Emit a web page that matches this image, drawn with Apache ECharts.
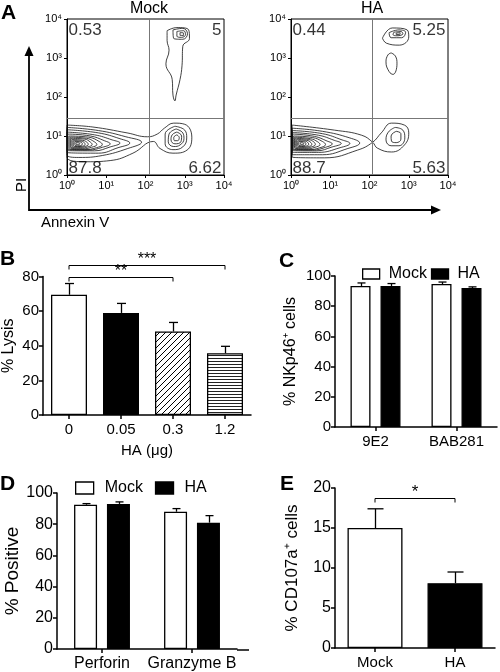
<!DOCTYPE html>
<html><head><meta charset="utf-8">
<script src="https://cdn.jsdelivr.net/npm/echarts@6/dist/echarts.min.js"></script>
<style>html,body{margin:0;padding:0;background:#fff}#c{width:500px;height:672px}</style>
</head><body><div id="c"></div>
<script>
// ---------- DATA ----------
const decadeLabels = ['10⁰','10¹','10²','10³','10⁴'];
const flowTitles = ['Mock','HA'];
const mockQuadrants = ['0.53','5','87.8','6.62'];   // UL, UR, LL, LR
const haQuadrants   = ['0.44','5.25','88.7','5.63'];
const mockGate = [2.09, 1.46];   // log10 annexin, log10 PI
const haGate   = [2.08, 1.46];

// contour lines (log10 Annexin V, log10 PI)
const mockContours = [
  [[0,1.28],[0.66,1.23],[1.53,1.08],[2.05,0.98],[2.3,1.05],[2.48,1.2],[2.72,1.33],[3.0,1.3],[3.18,0.97],[3.06,0.64],[2.7,0.56],[2.37,0.68],[2.2,0.86],[1.68,0.56],[1.1,0.37],[0.5,0.34],[0,0.46]],
  [[0,1.22],[0.8,1.14],[1.5,0.98],[1.9,0.84],[1.55,0.68],[0.9,0.5],[0.3,0.45],[0,0.52]],
  [[0,1.16],[0.8,1.08],[1.35,0.93],[1.6,0.82],[1.3,0.7],[0.8,0.56],[0,0.58]],
  [[0,1.1],[0.7,1.03],[1.15,0.9],[1.35,0.82],[1.1,0.72],[0.7,0.62],[0,0.63]],
  [[0.02,1.05],[0.6,1.0],[0.95,0.88],[1.1,0.8],[0.9,0.71],[0.55,0.64],[0.02,0.66]],
  [[0.05,1.0],[0.55,0.97],[0.82,0.86],[0.9,0.78],[0.75,0.7],[0.45,0.65],[0.05,0.68]],
  [[0.08,0.97],[0.5,0.94],[0.7,0.85],[0.76,0.78],[0.62,0.71],[0.4,0.67],[0.08,0.7]],
  [[0.1,0.94],[0.45,0.92],[0.6,0.84],[0.64,0.78],[0.53,0.72],[0.35,0.69],[0.1,0.72]],
  [[0.13,0.91],[0.4,0.89],[0.52,0.83],[0.54,0.78],[0.45,0.73],[0.3,0.71],[0.13,0.74]],
  [[0.16,0.88],[0.36,0.87],[0.45,0.82],[0.46,0.78],[0.39,0.74],[0.27,0.73],[0.16,0.76]],
  [[0.2,0.86],[0.32,0.85],[0.39,0.81],[0.38,0.77],[0.31,0.75],[0.2,0.77]],
  [[0.23,0.83],[0.31,0.82],[0.33,0.8],[0.29,0.78],[0.23,0.79]],
  [[2.75,1.25],[3.0,1.15],[3.05,0.95],[2.95,0.72],[2.7,0.65],[2.5,0.8],[2.5,1.05]],
  [[2.78,1.18],[2.95,1.08],[2.98,0.93],[2.88,0.77],[2.72,0.73],[2.58,0.85],[2.6,1.05]],
  [[2.8,1.1],[2.92,1.0],[2.9,0.85],[2.75,0.8],[2.65,0.9],[2.68,1.03]],
  [[2.8,1.03],[2.86,0.96],[2.82,0.88],[2.74,0.88],[2.72,0.96]],
  [[2.55,3.7],[2.8,3.78],[3.1,3.72],[3.12,3.5],[2.95,3.3],[2.93,2.8],[2.88,2.45],[2.78,2.05],[2.75,1.9],[2.7,2.05],[2.68,2.45],[2.52,2.85],[2.6,3.2],[2.55,3.45]],
  [[2.7,3.72],[2.95,3.76],[3.07,3.62],[2.95,3.48],[2.72,3.5]],
  [[2.8,3.68],[2.97,3.7],[3.02,3.6],[2.92,3.53],[2.8,3.56]],
  [[2.88,3.65],[2.97,3.64],[2.97,3.58],[2.88,3.58]]
];
const haContours = [
  [[0.03,1.28],[1.11,1.15],[1.8,1.02],[2.08,0.84],[2.2,0.69],[2.56,0.59],[2.89,0.77],[3.0,1.08],[2.89,1.28],[2.56,1.33],[2.3,1.08],[2.08,0.84],[1.7,0.64],[0.86,0.44],[0.03,0.46]],
  [[0.03,1.2],[0.8,1.12],[1.5,0.95],[1.75,0.82],[1.45,0.68],[0.8,0.52],[0.03,0.52]],
  [[0.03,1.14],[0.8,1.06],[1.3,0.9],[1.5,0.81],[1.25,0.7],[0.7,0.58],[0.03,0.58]],
  [[0.03,1.09],[0.7,1.02],[1.1,0.89],[1.28,0.81],[1.05,0.72],[0.65,0.62],[0.03,0.63]],
  [[0.04,1.05],[0.6,0.99],[0.92,0.87],[1.05,0.8],[0.88,0.71],[0.55,0.64],[0.04,0.66]],
  [[0.06,1.0],[0.55,0.96],[0.8,0.86],[0.88,0.78],[0.74,0.7],[0.45,0.65],[0.06,0.68]],
  [[0.09,0.97],[0.5,0.93],[0.68,0.85],[0.74,0.78],[0.61,0.71],[0.4,0.67],[0.09,0.7]],
  [[0.11,0.94],[0.45,0.91],[0.59,0.84],[0.62,0.78],[0.52,0.72],[0.35,0.69],[0.11,0.72]],
  [[0.14,0.91],[0.4,0.89],[0.51,0.83],[0.53,0.78],[0.45,0.73],[0.3,0.71],[0.14,0.74]],
  [[0.17,0.88],[0.36,0.87],[0.44,0.82],[0.45,0.78],[0.38,0.74],[0.27,0.73],[0.17,0.76]],
  [[0.2,0.86],[0.32,0.85],[0.38,0.81],[0.37,0.77],[0.3,0.75],[0.2,0.77]],
  [[0.24,0.83],[0.31,0.82],[0.33,0.8],[0.29,0.78],[0.24,0.79]],
  [[2.65,1.22],[2.85,1.15],[2.9,0.95],[2.75,0.75],[2.55,0.75],[2.42,0.9],[2.48,1.1]],
  [[2.68,1.12],[2.8,1.06],[2.8,0.92],[2.68,0.83],[2.56,0.87],[2.55,1.0]],
  [[2.33,3.51],[2.58,3.77],[2.96,3.72],[3.0,3.54],[2.76,3.33],[2.43,3.38]],
  [[2.5,3.65],[2.75,3.72],[2.92,3.66],[2.82,3.52],[2.55,3.52]],
  [[2.62,3.66],[2.8,3.68],[2.85,3.62],[2.7,3.57],[2.6,3.6]],
  [[2.68,3.64],[2.78,3.65],[2.78,3.61],[2.68,3.6]],
  [[2.55,3.13],[2.66,3.05],[2.7,2.85],[2.6,2.58],[2.5,2.65],[2.42,2.9],[2.47,3.08]]
];

const lysisCats = ['0','0.05','0.3','1.2'];
const lysisMean = [69.5, 59, 48.3, 35.7];
const lysisErr  = [6.5, 5.5, 5.2, 4.0];
const lysisSig  = [{from:0,to:2,text:'**'},{from:0,to:3,text:'***'}];

const nkCats = ['9E2','BAB281'];
const nkMock = [93.4, 94.7], nkMockErr = [2.0, 1.3];
const nkHA   = [93.4, 92.0], nkHAErr   = [1.6, 0.8];

const gzCats = ['Perforin','Granzyme B'];
const gzMock = [92.5, 88.0], gzMockErr = [0.7, 2.0];
const gzHA   = [93.0, 81.0], gzHAErr   = [1.3, 4.5];

const cdCats = ['Mock','HA'];
const cdMean = [15.0, 8.1];
const cdErr  = [2.4, 1.4];
const cdSig  = [{from:0,to:1,text:'*'}];

// ---------- STYLE HELPERS ----------
const FONT = 'Liberation Sans, Arial, sans-serif';
function pattern(kind){
  const c = document.createElement('canvas');
  const g = c.getContext('2d');
  if (kind === 'diag') {
    c.width = c.height = 6;
    g.fillStyle = '#fff'; g.fillRect(0,0,6,6);
    g.strokeStyle = '#000'; g.lineWidth = 1;
    g.beginPath(); g.moveTo(0,6); g.lineTo(6,0); g.moveTo(-1,1); g.lineTo(1,-1); g.moveTo(5,7); g.lineTo(7,5); g.stroke();
  } else {
    c.width = 4; c.height = 3;
    g.fillStyle = '#fff'; g.fillRect(0,0,4,3);
    g.fillStyle = '#222'; g.fillRect(0,1,4,1);
  }
  return {image: c, repeat: 'repeat'};
}
const BLK = '#000';
const barBorder = {borderColor: BLK, borderWidth: 1.3};

function errSeries(axis, vals, errs, offset, capW){
  return {type:'custom', xAxisIndex:axis, yAxisIndex:axis, silent:true, clip:false, z:1,
    encode:{x:0, y:1},
    data: vals.map((v,i)=>[i, v, errs[i]]),
    renderItem(params, api){
      const c = api.value(0), v = api.value(1), e = api.value(2);
      const p0 = api.coord([c, v]), p1 = api.coord([c, v + e]);
      const x = Math.round(p0[0] + offset) + 0.5;
      return {type:'group', children:[
        {type:'line', shape:{x1:x, y1:p0[1], x2:x, y2:p1[1]}, style:{stroke:BLK, lineWidth:1.3}},
        {type:'line', shape:{x1:x-capW/2, y1:p1[1], x2:x+capW/2, y2:p1[1]}, style:{stroke:BLK, lineWidth:1.3}}
      ]};
    }};
}
function bracketSeries(axis, sig, levels, fontSize){
  return {type:'custom', xAxisIndex:axis, yAxisIndex:axis, silent:true, clip:false, z:5,
    encode:{x:[0,1], y:2},
    data: sig.map((s,i)=>[s.from, s.to, levels[i]]),
    renderItem(params, api){
      const a = api.coord([api.value(0), api.value(2)]);
      const b = api.coord([api.value(1), api.value(2)]);
      const y = Math.round(a[1]) + 0.5;
      return {type:'group', children:[
        {type:'polyline', shape:{points:[[a[0], y+4],[a[0], y],[b[0], y],[b[0], y+4]]}, style:{stroke:BLK, lineWidth:1, fill:null}},
        {type:'text', x:(a[0]+b[0])/2, y:y+2, style:{text:sig[params.dataIndex].text, fontSize:fontSize, fontFamily:FONT, fill:BLK, align:'center', verticalAlign:'bottom'}}
      ]};
    }};
}
function contourSeries(axis, list){
  return list.map(c => ({type:'line', xAxisIndex:axis, yAxisIndex:axis, silent:true, symbol:'none', smooth:0.45,
    lineStyle:{color:'#111', width:0.8}, data: c.concat([c[0]]), z:2}));
}
function gateSeries(axis, gate){
  return {type:'line', xAxisIndex:axis, yAxisIndex:axis, silent:true, data:[], symbol:'none',
    markLine:{silent:true, symbol:'none', label:{show:false}, animation:false,
      lineStyle:{color:'#777', type:'solid', width:1},
      data:[{xAxis: gate[0]}, {yAxis: gate[1]}]}};
}
function quadSeries(axis, q){
  const corners = [[0,4],[4,4],[0,0],[4,0]];
  const lab = [
    {position:[2,3], align:'left', verticalAlign:'top'},
    {position:[-2,3], align:'right', verticalAlign:'top'},
    {position:[2,2], align:'left', verticalAlign:'bottom'},
    {position:[-2,2], align:'right', verticalAlign:'bottom'}];
  return {type:'scatter', xAxisIndex:axis, yAxisIndex:axis, silent:true, symbolSize:1, z:6,
    itemStyle:{color:'rgba(0,0,0,0)'},
    data: q.map((t,i)=>({value:corners[i], label:Object.assign({show:true, formatter:t, fontSize:17, color:BLK, fontFamily:FONT}, lab[i])}))};
}

// ---------- AXES ----------
const axLine = {show:true, lineStyle:{color:BLK, width:1.5}};
const axTick = {show:true, length:4, lineStyle:{color:BLK, width:1.5}};
function flowX(i){ return {gridIndex:i, type:'value', min:0, max:4, interval:1,
  axisLine:{show:true, lineStyle:{color:BLK, width:1}}, axisTick:{show:true, length:3, lineStyle:{color:BLK}},
  splitLine:{show:false}, axisLabel:{formatter:v=>decadeLabels[v], fontSize:11, color:BLK, margin:5, fontFamily:FONT}}; }
function flowY(i){ return {gridIndex:i, type:'value', min:0, max:4, interval:1,
  axisLine:{show:true, lineStyle:{color:BLK, width:1}}, axisTick:{show:true, length:3, lineStyle:{color:BLK}},
  splitLine:{show:false}, axisLabel:{formatter:v=>decadeLabels[v], fontSize:11, color:BLK, margin:5, fontFamily:FONT}}; }
function catX(i, cats, fs, extra){ return Object.assign({gridIndex:i, type:'category', data:cats,
  axisLine:axLine, axisTick:Object.assign({alignWithLabel:true}, axTick), splitLine:{show:false},
  axisLabel:{interval:0, hideOverlap:false, fontSize:fs, color:BLK, margin:7, fontFamily:FONT}}, extra||{}); }
function valY(i, max, step, name, nfs, gap, lfs){ return {gridIndex:i, type:'value', min:0, max:max, interval:step,
  axisLine:axLine, axisTick:axTick, splitLine:{show:false},
  axisLabel:{fontSize:lfs, color:BLK, margin:4, fontFamily:FONT},
  name:name, nameLocation:'middle', nameGap:gap, nameRotate:90,
  nameTextStyle:{fontSize:nfs, color:BLK, fontFamily:FONT}}; }

const option = {
  animation:false,
  textStyle:{fontFamily:FONT, color:BLK},
  grid:[
    {left:67, top:19, width:157, height:156, show:true, borderColor:BLK, borderWidth:1},
    {left:291, top:19, width:157, height:156, show:true, borderColor:BLK, borderWidth:1},
    {left:43, top:276.6, width:208, height:138.4},
    {left:335, top:276, width:162, height:151},
    {left:57, top:493, width:180, height:157},
    {left:335, top:488, width:160, height:160}
  ],
  xAxis:[
    flowX(0), flowX(1),
    catX(2, lysisCats, 15, {name:'HA (μg)', nameLocation:'middle', nameGap:28, nameTextStyle:{fontSize:15, color:BLK, fontFamily:FONT}}),
    catX(3, nkCats, 15),
    catX(4, gzCats, 16),
    catX(5, cdCats, 15)
  ],
  yAxis:[
    flowY(0), flowY(1),
    valY(2, 80, 20, '% Lysis', 16, 26, 15),
    valY(3, 100, 20, '% NKp46⁺ cells', 16, 36, 15),
    valY(4, 100, 20, '% Positive', 19, 35, 16),
    valY(5, 20, 5, '% CD107a⁺ cells', 17, 34, 16)
  ],
  legend:[
    {data:['Mock','HA'], left:357, top:261, icon:'rect', itemWidth:17, itemHeight:10, itemGap:4,
     itemStyle:{borderColor:BLK, borderWidth:1.3}, textStyle:{fontSize:16, color:BLK, fontFamily:FONT, padding:[0,0,0,4]}, selectedMode:false},
    {data:['Mock','HA'], left:70, top:475, icon:'rect', itemWidth:18, itemHeight:12, itemGap:12,
     itemStyle:{borderColor:BLK, borderWidth:1.3}, textStyle:{fontSize:16, color:BLK, fontFamily:FONT, padding:[0,0,0,6]}, selectedMode:false}
  ],
  graphic:[
    {type:'text', left:1, top:3, style:{text:'A', fontSize:21, fontWeight:'bold', fontFamily:FONT, fill:BLK}},
    {type:'text', left:0, top:249, style:{text:'B', fontSize:21, fontWeight:'bold', fontFamily:FONT, fill:BLK}},
    {type:'text', left:279, top:251, style:{text:'C', fontSize:21, fontWeight:'bold', fontFamily:FONT, fill:BLK}},
    {type:'text', left:0, top:474, style:{text:'D', fontSize:21, fontWeight:'bold', fontFamily:FONT, fill:BLK}},
    {type:'text', left:280, top:474, style:{text:'E', fontSize:21, fontWeight:'bold', fontFamily:FONT, fill:BLK}},
    {type:'text', x:149, y:1, style:{text:flowTitles[0], fontSize:16, fontFamily:FONT, fill:BLK, align:'center', verticalAlign:'top'}},
    {type:'text', x:372, y:1, style:{text:flowTitles[1], fontSize:16, fontFamily:FONT, fill:BLK, align:'center', verticalAlign:'top'}},
    {type:'polyline', shape:{points:[[29,53],[29,210],[434,210]]}, style:{stroke:BLK, lineWidth:1.8, fill:null}},
    {type:'polygon', shape:{points:[[24.5,56],[29,46],[33.5,56]]}, style:{fill:BLK}},
    {type:'polygon', shape:{points:[[431,205.5],[441,210],[431,214.5]]}, style:{fill:BLK}},
    {type:'text', x:22, y:185, rotation:Math.PI/2, style:{text:'PI', fontSize:15, fontFamily:FONT, fill:BLK, align:'center', verticalAlign:'middle'}},
    {type:'text', x:41, y:223, style:{text:'Annexin V', fontSize:15, fontFamily:FONT, fill:BLK, align:'left', verticalAlign:'middle'}},
    {type:'line', shape:{x1:237, y1:650, x2:249, y2:650}, style:{stroke:BLK, lineWidth:1.5}}
  ],
  series:[].concat(
    contourSeries(0, mockContours),
    contourSeries(1, haContours),
    [gateSeries(0, mockGate), gateSeries(1, haGate), quadSeries(0, mockQuadrants), quadSeries(1, haQuadrants)],
    [{type:'bar', name:'Lysis', xAxisIndex:2, yAxisIndex:2, barWidth:36, z:2,
      data: lysisMean.map((v,i)=>({value:v, itemStyle:Object.assign({color:[ '#fff', '#000', pattern('diag'), pattern('horiz')][i]}, barBorder)}))},
     errSeries(2, lysisMean, lysisErr, 0, 9),
     bracketSeries(2, lysisSig, [80, 86.8], 16)],
    [{type:'bar', name:'Mock', xAxisIndex:3, yAxisIndex:3, barWidth:20, barGap:'50%', z:2, itemStyle:Object.assign({color:'#fff'}, barBorder), data:nkMock},
     {type:'bar', name:'HA', xAxisIndex:3, yAxisIndex:3, barWidth:20, barGap:'50%', z:2, itemStyle:Object.assign({color:'#000'}, barBorder), data:nkHA},
     errSeries(3, nkMock, nkMockErr, -15, 8), errSeries(3, nkHA, nkHAErr, 15, 8)],
    [{type:'bar', name:'Mock', xAxisIndex:4, yAxisIndex:4, barWidth:23, barGap:'43%', z:2, itemStyle:Object.assign({color:'#fff'}, barBorder), data:gzMock},
     {type:'bar', name:'HA', xAxisIndex:4, yAxisIndex:4, barWidth:23, barGap:'43%', z:2, itemStyle:Object.assign({color:'#000'}, barBorder), data:gzHA},
     errSeries(4, gzMock, gzMockErr, -16.5, 8), errSeries(4, gzHA, gzHAErr, 16.5, 8)],
    [{type:'bar', name:'CD107a', xAxisIndex:5, yAxisIndex:5, barWidth:55, z:2,
      data: cdMean.map((v,i)=>({value:v, itemStyle:Object.assign({color:['#fff','#000'][i]}, barBorder)}))},
     errSeries(5, cdMean, cdErr, 0, 16),
     bracketSeries(5, cdSig, [18.8], 17)]
  )
};
const chart = echarts.init(document.getElementById('c'), null, {renderer:'canvas'});
chart.setOption(option);
</script></body></html>
